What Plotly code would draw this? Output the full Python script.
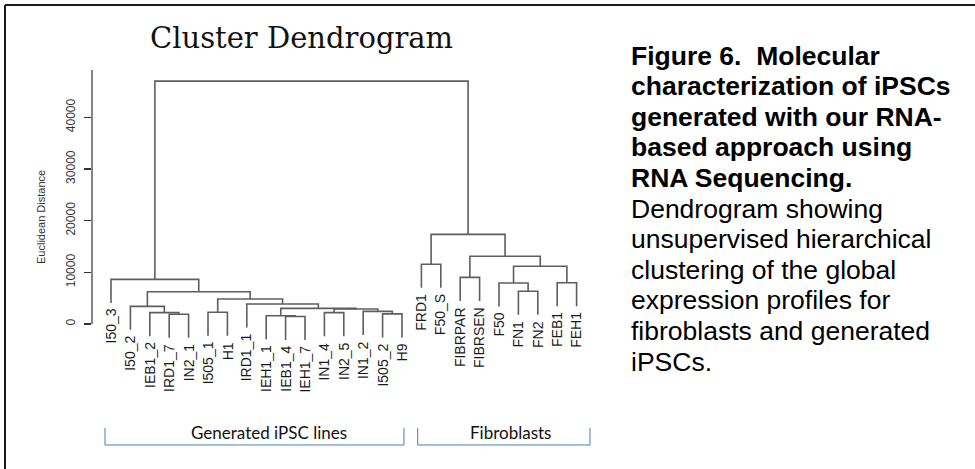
import plotly.graph_objects as go

# ---------------- data ----------------
leaf_labels = ["I50_3", "I50_2", "IEB1_2", "IRD1_7", "IN2_1", "I505_1", "H1", "IRD1_1",
               "IEH1_1", "IEB1_4", "IEH1_7", "IN1_4", "IN2_5", "IN1_2", "I505_2", "H9",
               "FRD1", "F50_S", "FIBRPAR", "FIBRSEN", "F50", "FN1", "FN2", "FEB1", "FEH1"]

# R-style merge matrix: negative = leaf (1-based display order), positive = earlier merge
merge_left = [-10, -9, -4, -15, -12, -3, -6, -14, 5, 2, -2, -8, 7, 11, -1,
              -22, -21, -24, -19, 17, -17, 19, 21, 15]
merge_right = [-11, 1, -5, -16, -13, 3, -7, 4, 8, 9, 6, 10, 12, 13, 14,
               -23, 16, -25, -20, 18, -18, 20, 22, 23]
merge_height = [1450, 1600, 1900, 1950, 2200, 2200, 2260, 2450, 2900, 3030, 3420, 3880,
                4835, 6250, 8640, 6350, 7930, 7990, 9030, 11180, 11550, 13100, 17350, 47000]

y_ticks = [0, 10000, 20000, 30000, 40000]
group_names = ["Generated iPSC lines", "Fibroblasts"]

caption_bold = ["Figure 6.\u00a0 Molecular", "characterization of iPSCs",
                "generated with our RNA-", "based approach using", "RNA Sequencing."]
caption_normal = ["Dendrogram showing", "unsupervised hierarchical",
                  "clustering of the global", "expression profiles for",
                  "fibroblasts and generated", "iPSCs."]

# ---------------- layout geometry ----------------
W_PX, H_PX = 975, 469
L, R, T, B = 92, 600, 70, 342
PXW, PXH = R - L, B - T


def px_x(px):
    return (px - L) / PXW


def px_y(py):
    return (B - py) / PXH


# ---------------- dendrogram geometry ----------------
n = len(leaf_labels)
hang = 0.1 * (max(merge_height) - min(merge_height))
node_x = {}
leaf_bottom = {}
xs, ys = [], []


def child(c, h):
    if c < 0:
        leaf_bottom[-c] = h - hang
        return float(-c), h - hang
    return node_x[c], merge_height[c - 1]


for k in range(len(merge_height)):
    h = merge_height[k]
    xl, yl = child(merge_left[k], h)
    xr, yr = child(merge_right[k], h)
    xs += [xl, xl, xr, xr, None]
    ys += [yl, h, h, yr, None]
    node_x[k + 1] = (xl + xr) / 2

fig = go.Figure()
fig.add_trace(go.Scatter(x=xs, y=ys, mode="lines",
                         line=dict(color="#5e5e5e", width=1.6),
                         hoverinfo="skip", showlegend=False))

# axis scale
px_per_unit = 19.4
x0_data = 1 - (111 - L) / px_per_unit
x1_data = x0_data + PXW / px_per_unit
px_per_y = 5.1675 / 1000
y_lo = -(B - 324) / px_per_y
y_hi = y_lo + PXH / px_per_y

annotations = []
for i, lab in enumerate(leaf_labels, start=1):
    annotations.append(dict(x=i, y=leaf_bottom[i], xref="x", yref="y", text=lab,
                            textangle=-90, xanchor="center", yanchor="top", yshift=-4,
                            showarrow=False,
                            font=dict(family="Liberation Sans, Arial", size=14, color="#1a1a1a")))

# title
annotations.append(dict(x=px_x(301), y=px_y(38), xref="paper", yref="paper",
                        text="Cluster Dendrogram", showarrow=False,
                        xanchor="center", yanchor="middle",
                        font=dict(family="DejaVu Serif", size=29, color="#111")))
# y title
annotations.append(dict(x=px_x(41), y=px_y(217), xref="paper", yref="paper",
                        text="Euclidean Distance", showarrow=False, textangle=-90,
                        xanchor="center", yanchor="middle",
                        font=dict(family="Liberation Sans, Arial", size=11, color="#333")))

# caption
cap_lines = [(t, True) for t in caption_bold] + [(t, False) for t in caption_normal]
for k, (t, bold) in enumerate(cap_lines):
    annotations.append(dict(x=px_x(629), y=px_y(55.5 + 30.6 * k), xref="paper", yref="paper",
                            text=("<b>%s</b>" % t) if bold else t, showarrow=False,
                            xanchor="left", yanchor="middle",
                            font=dict(family="Liberation Sans, Arial", size=26.5, color="#000")))

# group brackets
brackets = [(0.69, 16.1, 9.14), (16.81, 25.69, 21.57)]
shapes = []
for (bx0, bx1, tx), name in zip(brackets, group_names):
    shapes.append(dict(type="path", xref="x", yref="paper",
                       path="M %f,%f L %f,%f L %f,%f L %f,%f" % (
                           bx0, px_y(428), bx0, px_y(445), bx1, px_y(445), bx1, px_y(428)),
                       line=dict(color="#4a7ebb", width=1)))
    annotations.append(dict(x=tx, y=px_y(432), xref="x", yref="paper", text=name,
                            showarrow=False, xanchor="center", yanchor="middle",
                            font=dict(family="Lato", size=17, color="#111")))

# y axis line (0 to top)
shapes.append(dict(type="line", xref="paper", yref="y", x0=0, x1=0, y0=0, y1=y_hi,
                   line=dict(color="#333", width=1.2)))
# outer frame (top + left)
shapes.append(dict(type="line", xref="paper", yref="paper", x0=px_x(5), x1=px_x(990),
                   y0=px_y(5), y1=px_y(5), line=dict(color="#1a1a1a", width=2)))
shapes.append(dict(type="line", xref="paper", yref="paper", x0=px_x(5), x1=px_x(5),
                   y0=px_y(5), y1=px_y(490), line=dict(color="#1a1a1a", width=2)))

fig.update_layout(
    width=W_PX, height=H_PX,
    margin=dict(l=L, r=W_PX - R, t=T, b=H_PX - B, pad=0),
    paper_bgcolor="white", plot_bgcolor="white",
    showlegend=False,
    xaxis=dict(range=[x0_data, x1_data], visible=False, fixedrange=True),
    yaxis=dict(range=[y_lo, y_hi], tickvals=y_ticks, tickformat="d",
               ticks="outside", ticklen=7, tickwidth=1.2, tickcolor="#333",
               tickangle=-90, showline=False, showgrid=False, zeroline=False,
               ticklabelstandoff=4,
               tickfont=dict(family="Liberation Sans, Arial", size=12, color="#333"),
               fixedrange=True),
    annotations=annotations,
    shapes=shapes,
)

fig.write_html("out.html", config={"displayModeBar": False, "staticPlot": True},
               post_script="document.body.style.margin='0';document.body.style.overflow='hidden';")
